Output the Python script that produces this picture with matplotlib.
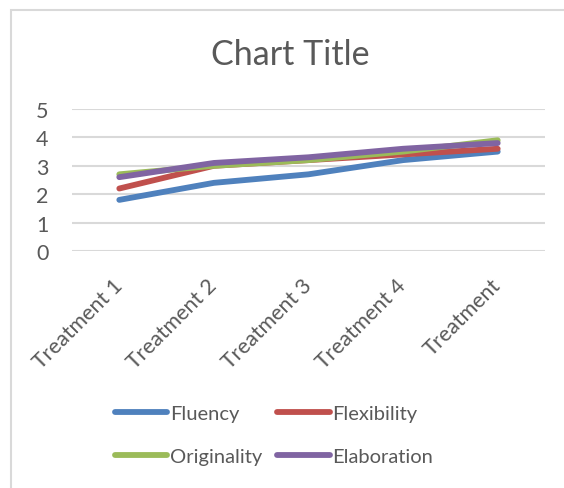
import matplotlib.pyplot as plt
from matplotlib.patches import Rectangle

# scores per treatment
treatments = ['Treatment 1', 'Treatment 2', 'Treatment 3', 'Treatment 4', 'Treatment']
fluency = [1.8, 2.4, 2.7, 3.2, 3.5]
flexibility = [2.2, 3.0, 3.2, 3.4, 3.6]
originality = [2.7, 3.0, 3.2, 3.5, 3.9]
elaboration = [2.6, 3.1, 3.3, 3.6, 3.8]

series = [('Fluency', fluency, '#4F81BD'),
          ('Flexibility', flexibility, '#C0504D'),
          ('Originality', originality, '#9BBB59'),
          ('Elaboration', elaboration, '#8064A2')]

plt.rcParams['font.family'] = ['Lato', 'DejaVu Sans']
txt = '#595959'

fig = plt.figure(figsize=(5.64, 4.89), dpi=100)
fig.patches.append(Rectangle((11 / 564, -0.1), 1.2, 1 - 11 / 489 + 0.1,
                             transform=fig.transFigure, fill=False,
                             edgecolor='#d9d9d9', linewidth=1.5))

ax = fig.add_axes([72 / 564, 1 - 252 / 489, 473 / 564, 142 / 489])
x = range(len(treatments))
lines = {}
for name, vals, col in series:
    lines[name], = ax.plot(x, vals, color=col, linewidth=4.2,
                           solid_capstyle='round', label=name)

ax.set_xlim(-0.5, len(treatments) - 0.5)
ax.set_ylim(0, 5)
ax.set_yticks(range(6))
ax.grid(axis='y', color='#d9d9d9', linewidth=1.5)
ax.set_axisbelow(True)
for s in ax.spines.values():
    s.set_visible(False)
ax.tick_params(length=0, colors=txt, labelsize=15.5)
ax.tick_params(axis='y', pad=17)
ax.tick_params(axis='x', pad=22)
ax.set_xticks(list(x))
ax.set_xticklabels(treatments, rotation=45, ha='right', va='center',
                   rotation_mode='anchor')

fig.text(0.515, 1 - 55 / 489, 'Chart Title', ha='center', va='center',
         fontsize=24.5, color=txt)

# legend fills row by row: Fluency, Flexibility / Originality, Elaboration
order = ['Fluency', 'Originality', 'Flexibility', 'Elaboration']
fig.legend([lines[n] for n in order], order,
           loc='center', bbox_to_anchor=(274 / 564, 1 - 436 / 489), ncol=2,
           frameon=False, fontsize=14.5, handlelength=2.6, handletextpad=0.15,
           columnspacing=0.75, labelspacing=1.3, labelcolor=txt)

fig.savefig('out.png', dpi=100)
